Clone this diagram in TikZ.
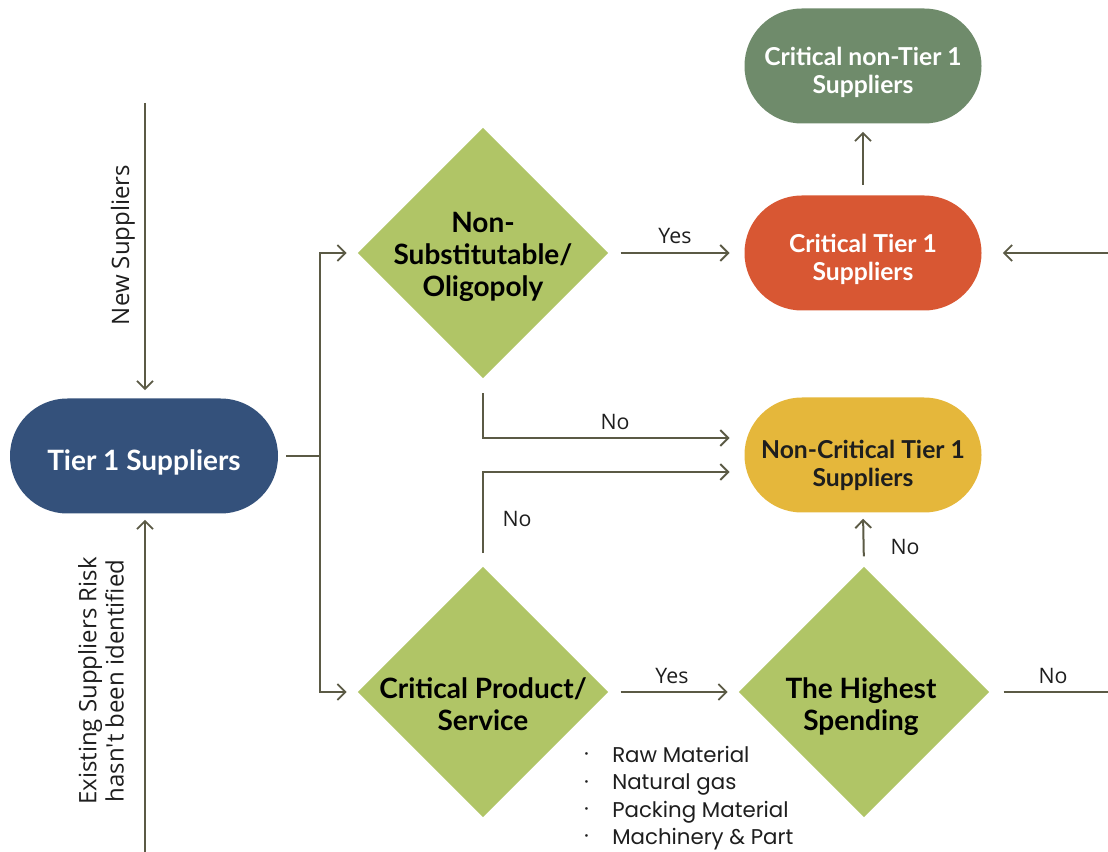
\documentclass[tikz,border=0pt]{standalone}
\usepackage{fontspec}
\setmainfont{Poppins}
\newfontfamily\nodefont{Lato}
\newfontfamily\lblfont{Open Sans}
\usetikzlibrary{shapes.geometric,arrows.meta,calc}
\definecolor{lineC}{HTML}{5B5A45}
\definecolor{blueC}{HTML}{34517B}
\definecolor{orangeC}{HTML}{D85733}
\definecolor{yellowC}{HTML}{E5B73B}
\definecolor{grayGreen}{HTML}{6F8B6B}
\definecolor{limeC}{HTML}{B0C566}
\definecolor{txtC}{HTML}{1E1E1E}
\newcommand{\blt}{\makebox[21pt][l]{\raisebox{3.5pt}{\fontsize{8}{8}\selectfont\textbullet}}}
\tikzset{
  stadium/.style={rectangle, rounded corners=43pt, minimum width=177.75pt, minimum height=86.25pt, inner sep=0pt},
  stext/.style={text=white, align=center, inner sep=0pt, font=\nodefont\bfseries\fontsize{18.5}{21}\selectfont},
  dia/.style={diamond, fill=limeC, minimum width=188pt, minimum height=188pt, inner sep=0pt},
  dtext/.style={align=center, text=black, inner sep=0pt, font=\nodefont\bfseries\fontsize{21}{24}\selectfont},
  conn/.style={draw=lineC, line width=1.5pt},
  arr/.style={conn, -{Straight Barb[length=6pt,width=12pt,line width=1.4pt]}},
  lbl/.style={text=txtC, font=\lblfont\fontsize{16}{20}\selectfont, inner sep=0pt},
}
\begin{document}
\begin{tikzpicture}[x=0.75pt,y=-0.75pt]
\useasboundingbox (0,0) rectangle (1108,852);
% nodes
\node[stadium, fill=blueC, minimum width=201pt] (t1) at (144,456) {};
\node[stext, font=\nodefont\bfseries\fontsize{21}{24}\selectfont] (t1t) at (144,462) {Tier 1 Suppliers};
\node[stadium, fill=grayGreen] (cn) at (863,66) {};
\node[stext] (cnt) at (863,72) {Critical non-Tier 1\\Suppliers};
\node[stadium, fill=orangeC] (ct) at (863,253) {};
\node[stext] (ctt) at (863,259) {Critical Tier 1\\Suppliers};
\node[stadium, fill=yellowC] (nc) at (863,455) {};
\node[stext, text=txtC] (nct) at (863,465) {Non-Critical Tier 1\\Suppliers};
\node[dia] (d1) at (483,253) {};
\node[dtext] (d1t) at (483,257) {Non-\\Substitutable/\\Oligopoly};
\node[dia] (d2) at (483,692) {};
\node[dtext] (d2t) at (483,704) {Critical Product/\\Service};
\node[dia] (d3) at (864,692) {};
\node[dtext] (d3t) at (861,707) {The Highest\\Spending};
% coordinates
\coordinate (bx) at (320,456);
\coordinate (ns) at (145,103);
\coordinate (ex) at (145,852);
\coordinate (rIn) at (1108,253);
\coordinate (rOut) at (1108,692);
% connectors
\draw[conn, shorten <=6pt] (t1.east) -- (bx);
\draw[arr, shorten >=8pt] (bx) |- (d1.west);
\draw[arr, shorten >=8pt] (bx) |- (d2.west);
\draw[arr, shorten <=9pt, shorten >=11pt] (d1.east) -- (ct.west);
\draw[arr, shorten <=11pt, shorten >=11pt] (d1.south) |- ([yshift=12.75pt]nc.west);
\draw[arr, shorten <=10pt, shorten >=11pt] (d2.north) |- ([yshift=-12.75pt]nc.west);
\draw[arr, shorten <=9pt, shorten >=8pt] (d2.east) -- (d3.west);
\draw[arr, shorten <=7.5pt, shorten >=4.5pt] (d3.north) -- (nc.south);
\draw[conn, shorten <=10.5pt] (d3.east) -- (rOut);
\draw[arr, shorten <=8pt, shorten >=6pt] (ct.north) -- (cn.south);
\draw[arr, shorten >=15.75pt] (rIn) -- (ct.east);
\draw[arr, shorten >=6pt] (ns) -- (ns |- t1.north);
\draw[arr, shorten >=4.5pt] (ex) -- (ex |- t1.south);
% labels
\node[lbl] (l1) at (675,236) {Yes};
\node[lbl] (l2) at (615,422) {No};
\node[lbl] (l3) at (517,519) {No};
\node[lbl] (l4) at (672,676) {Yes};
\node[lbl] (l5) at (905,547) {No};
\node[lbl] (l6) at (1053,676) {No};
\node[lbl, rotate=90, font=\lblfont\fontsize{18}{20}\selectfont] (l7) at (123,245) {New Suppliers};
\node[lbl, rotate=90, align=center, font=\lblfont\fontsize{18}{20.5}\selectfont] (l8) at (101,681) {Existing Suppliers Risk\\hasn't been identified};
\node[lbl, anchor=west, align=left, font=\fontsize{16}{20.5}\selectfont] (l9) at (584,798) {\blt Raw Material\\\blt Natural gas\\\blt Packing Material\\\blt Machinery \& Part};
\end{tikzpicture}
\end{document}
